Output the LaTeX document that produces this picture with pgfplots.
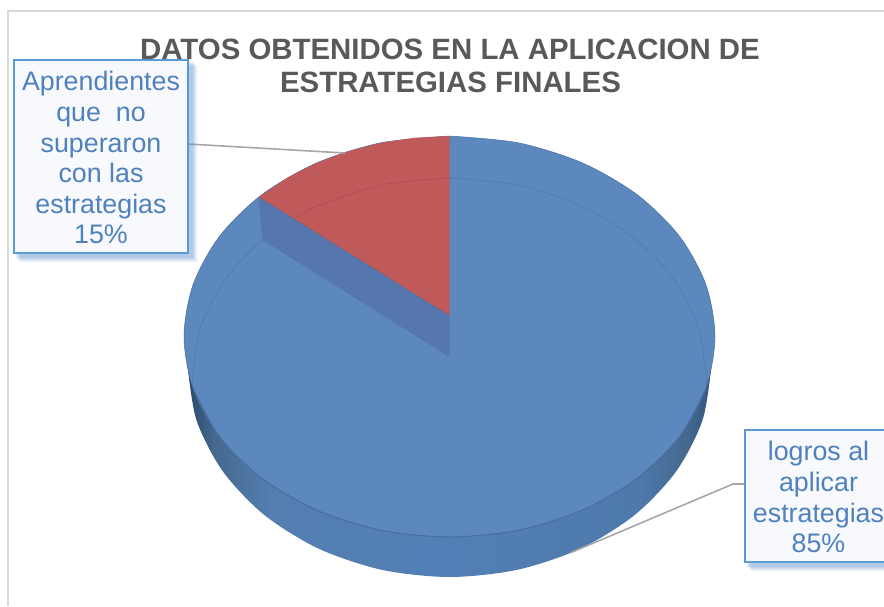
\documentclass[border=0pt]{standalone}
\usepackage{pgfplots}
\pgfplotsset{compat=1.18}
\usepackage{fontspec}
\setmainfont{Liberation Sans}
\definecolor{pieblue}{HTML}{5C88BE}
\definecolor{piered}{HTML}{C0595A}
\definecolor{wallblue}{HTML}{5677AE}
\definecolor{edgeblue}{HTML}{4A6E9E}
\definecolor{rimblue}{HTML}{47699A}
\definecolor{rimred}{HTML}{A84A50}
\definecolor{titlegray}{HTML}{595959}
\definecolor{leadergray}{HTML}{A6A6A6}
\definecolor{bordergray}{HTML}{D9D9D9}
\definecolor{boxline}{HTML}{5B9BD5}
\definecolor{boxfill}{HTML}{F7F9FD}
\definecolor{labeltext}{HTML}{4F81BD}
\definecolor{shadowblue}{HTML}{5B8FC8}
\definecolor{sa}{HTML}{2C4A6A}
\definecolor{sb}{HTML}{45698F}
\definecolor{sc}{HTML}{547EB0}
\definecolor{sd}{HTML}{527FB6}
\definecolor{se}{HTML}{4F79AB}
\definecolor{sf}{HTML}{36567C}
\pgfdeclarehorizontalshading{sideshade}{100bp}{color(0bp)=(sa); color(25bp)=(sa); color(27.5bp)=(sb); color(33bp)=(sc); color(50bp)=(sd); color(68bp)=(se); color(72.5bp)=(sb); color(75bp)=(sf); color(100bp)=(sf)}
\newcommand{\lab}[1]{\fontsize{26.8}{30.6}\selectfont\color{labeltext}#1}
\newcommand{\ttl}[1]{\fontsize{29.4}{33.5}\selectfont\bfseries\color{titlegray}#1}
\begin{document}
\begin{tikzpicture}[x=1pt,y=1pt]
\path[use as bounding box] (0,0) rectangle (884,606);
\begin{axis}[at={(0,0)},anchor=south west,scale only axis,width=884pt,height=606pt,
  xmin=0,xmax=884,ymin=0,ymax=606,y dir=reverse,hide axis,clip=false]
% chart frame
\addplot[bordergray,line width=1.6pt,forget plot] coordinates {(8,606) (8,11) (884,11)};
% side of the pie (lower silhouette)
\addplot[smooth,draw=none,shade,shading=sideshade,forget plot] coordinates {
 (711.5,365) (702.6,419.9) (676.4,471) (634.8,514.9) (580.5,548.6) (517.3,569.8) (449.5,577)
 (381.7,569.8) (318.5,548.6) (264.2,514.9) (222.6,471) (196.4,419.9) (187.5,365)};
% top face: 85 % blue (drawn as whole disc, red wedge on top)
\addplot[smooth,fill=pieblue,draw=edgeblue,line width=.5pt,forget plot] coordinates {
 (449.5,136) (518.2,142.8) (582.3,162.9) (637.2,194.7) (679.4,236.2) (705.9,284.6) (715,336.5)
 (705.9,388.4) (679.4,436.8) (637.2,478.3) (582.3,510.1) (518.2,530.2) (449.5,537)
 (380.8,530.2) (316.7,510.1) (261.8,478.3) (219.6,436.8) (193.1,388.4) (184,336.5)
 (193.1,284.6) (219.6,236.2) (261.8,194.7) (316.7,162.9) (380.8,142.8) (449.5,136)};
% front edge
\addplot[smooth,edgeblue,line width=.9pt,forget plot] coordinates {
 (705.9,388.4) (679.4,436.8) (637.2,478.3) (582.3,510.1) (518.2,530.2) (449.5,537)
 (380.8,530.2) (316.7,510.1) (261.8,478.3) (219.6,436.8) (193.1,388.4)};
% rim lines on blue
\addplot[smooth,rimblue,line width=.4pt,opacity=.6,forget plot] coordinates {
 (449.5,178) (515.9,184.7) (577.8,204.4) (630.9,235.7) (671.6,276.5) (697.3,324) (706,375) (705,392)};
\addplot[smooth,rimblue,line width=.4pt,opacity=.7,forget plot] coordinates {
 (262,240) (227.4,276.5) (201.7,324) (193,375) (194,392)};
% red wedge: 15 %
\addplot[fill=piered,draw=none,forget plot] coordinates {
 (449.5,316) (449.5,136) (414.9,137.7) (380.8,142.8) (347.9,151.3) (316.7,162.9) (287.9,177.4) (258.5,197.2)} -- cycle;
\addplot[smooth,rimred,line width=.5pt,forget plot] coordinates {
 (295,218) (321.2,204.4) (383.1,184.7) (449.5,178)};
% cut wall
\addplot[fill=wallblue,draw=none,forget plot] coordinates {
 (258.5,197.2) (262.5,240) (449.5,357) (449.5,316)} -- cycle;
\addplot[edgeblue,line width=.5pt,forget plot] coordinates {(258.5,197.2) (449.5,316)};
% title
\node[anchor=base,inner sep=0pt] at (axis cs:450,59.3) {\ttl{DATOS OBTENIDOS EN LA APLICACION DE}};
\node[anchor=base,inner sep=0pt] at (axis cs:450.5,92) {\ttl{ESTRATEGIAS FINALES}};
% leaders
\addplot[leadergray,line width=1.6pt,forget plot] coordinates {(188,144) (345,153)};
\addplot[leadergray,line width=1.6pt,forget plot] coordinates {(745,484) (733,484) (570,553)};
% label 1
\fill[shadowblue,opacity=.05] (axis cs:21,67) rectangle (axis cs:198,263);
\fill[shadowblue,opacity=.07] (axis cs:20,66) rectangle (axis cs:197,262);
\fill[shadowblue,opacity=.09] (axis cs:19,65) rectangle (axis cs:196,261);
\fill[shadowblue,opacity=.11] (axis cs:18,64) rectangle (axis cs:195,260);
\fill[shadowblue,opacity=.13] (axis cs:17,63) rectangle (axis cs:194,259);
\fill[shadowblue,opacity=.15] (axis cs:16,62) rectangle (axis cs:193,258);
\draw[boxline,fill=boxfill,line width=2.5pt] (axis cs:14,60) rectangle (axis cs:188,253);
\node[anchor=base,inner sep=0pt] at (axis cs:101,90) {\lab{Aprendientes}};
\node[anchor=base,inner sep=0pt] at (axis cs:101,121) {\lab{que\ \ no}};
\node[anchor=base,inner sep=0pt] at (axis cs:101,152) {\lab{superaron}};
\node[anchor=base,inner sep=0pt] at (axis cs:101,182) {\lab{con las}};
\node[anchor=base,inner sep=0pt] at (axis cs:101,213) {\lab{estrategias}};
\node[anchor=base,inner sep=0pt] at (axis cs:101,243) {\lab{15\%}};
% label 2
\fill[shadowblue,opacity=.05] (axis cs:752,437) rectangle (axis cs:900,572);
\fill[shadowblue,opacity=.07] (axis cs:751,436) rectangle (axis cs:900,571);
\fill[shadowblue,opacity=.09] (axis cs:750,435) rectangle (axis cs:900,570);
\fill[shadowblue,opacity=.11] (axis cs:749,434) rectangle (axis cs:900,569);
\fill[shadowblue,opacity=.13] (axis cs:748,433) rectangle (axis cs:900,568);
\fill[shadowblue,opacity=.15] (axis cs:747,432) rectangle (axis cs:900,567);
\draw[boxline,fill=boxfill,line width=2.5pt] (axis cs:745,430) rectangle (axis cs:900,562);
\node[anchor=base,inner sep=0pt] at (axis cs:818.5,460) {\lab{logros al}};
\node[anchor=base,inner sep=0pt] at (axis cs:818.5,491) {\lab{aplicar}};
\node[anchor=base,inner sep=0pt] at (axis cs:818.5,522) {\lab{estrategias}};
\node[anchor=base,inner sep=0pt] at (axis cs:818.5,552) {\lab{85\%}};
\end{axis}
\end{tikzpicture}
\end{document}
